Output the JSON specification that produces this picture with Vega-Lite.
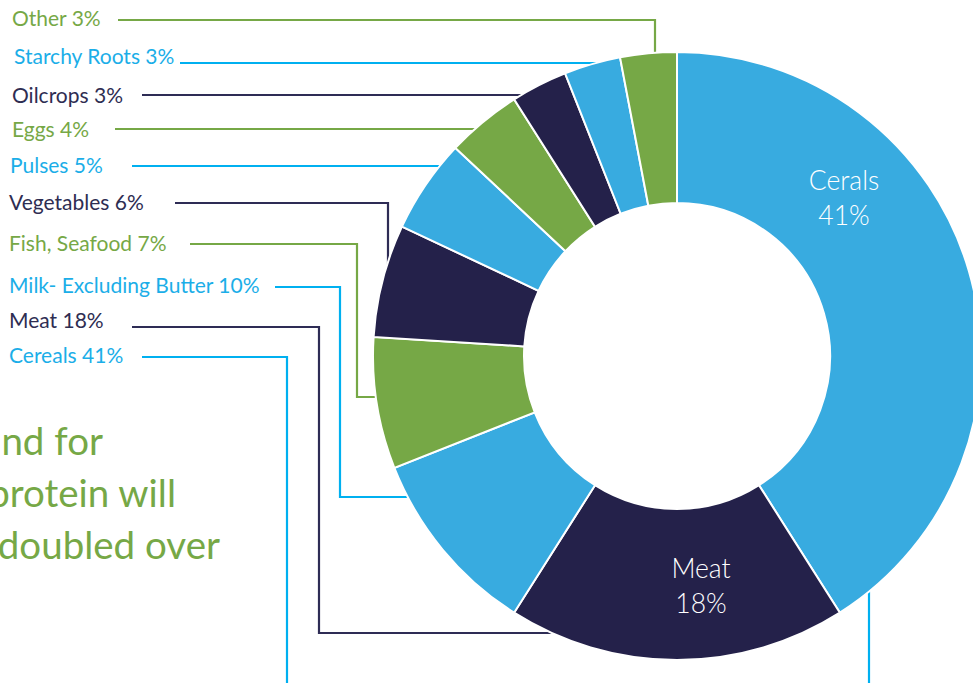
{
  "$schema": "https://vega.github.io/schema/vega-lite/v6.json",
  "width": 973,
  "height": 683,
  "autosize": "none",
  "padding": 0,
  "background": "white",
  "config": {"view": {"stroke": null}},
  "datasets": {
    "slices": [
      {"category": "Cereals", "value": 41, "ord": 1},
      {"category": "Meat", "value": 18, "ord": 2},
      {"category": "Milk- Excluding Butter", "value": 10, "ord": 3},
      {"category": "Fish, Seafood", "value": 7, "ord": 4},
      {"category": "Vegetables", "value": 6, "ord": 5},
      {"category": "Pulses", "value": 5, "ord": 6},
      {"category": "Eggs", "value": 4, "ord": 7},
      {"category": "Oilcrops", "value": 3, "ord": 8},
      {"category": "Starchy Roots", "value": 3, "ord": 9},
      {"category": "Other", "value": 3, "ord": 10}
    ],
    "labels": [
      {"category": "Other", "label": "Other 3%", "x": 12, "y": 20},
      {"category": "Starchy Roots", "label": "Starchy Roots 3%", "x": 14, "y": 58},
      {"category": "Oilcrops", "label": "Oilcrops 3%", "x": 12, "y": 97},
      {"category": "Eggs", "label": "Eggs 4%", "x": 12, "y": 131},
      {"category": "Pulses", "label": "Pulses 5%", "x": 10, "y": 167},
      {"category": "Vegetables", "label": "Vegetables 6%", "x": 9, "y": 204},
      {"category": "Fish, Seafood", "label": "Fish, Seafood 7%", "x": 9, "y": 245},
      {"category": "Milk- Excluding Butter", "label": "Milk- Excluding Butter 10%", "x": 9, "y": 287},
      {"category": "Meat", "label": "Meat 18%", "x": 9, "y": 322},
      {"category": "Cereals", "label": "Cereals 41%", "x": 9, "y": 357}
    ],
    "leaders": [
      {"category": "Other", "id": "a", "seq": 1, "x": 118, "y": 20},
      {"category": "Other", "id": "a", "seq": 2, "x": 655, "y": 20},
      {"category": "Other", "id": "a", "seq": 3, "x": 655, "y": 52},
      {"category": "Starchy Roots", "id": "b", "seq": 1, "x": 180, "y": 63},
      {"category": "Starchy Roots", "id": "b", "seq": 2, "x": 600, "y": 63},
      {"category": "Oilcrops", "id": "c", "seq": 1, "x": 142, "y": 95},
      {"category": "Oilcrops", "id": "c", "seq": 2, "x": 530, "y": 95},
      {"category": "Eggs", "id": "d", "seq": 1, "x": 115, "y": 129},
      {"category": "Eggs", "id": "d", "seq": 2, "x": 480, "y": 129},
      {"category": "Pulses", "id": "e", "seq": 1, "x": 132, "y": 166},
      {"category": "Pulses", "id": "e", "seq": 2, "x": 440, "y": 166},
      {"category": "Vegetables", "id": "f", "seq": 1, "x": 175, "y": 203},
      {"category": "Vegetables", "id": "f", "seq": 2, "x": 388, "y": 203},
      {"category": "Vegetables", "id": "f", "seq": 3, "x": 388, "y": 265},
      {"category": "Fish, Seafood", "id": "g", "seq": 1, "x": 190, "y": 244},
      {"category": "Fish, Seafood", "id": "g", "seq": 2, "x": 357, "y": 244},
      {"category": "Fish, Seafood", "id": "g", "seq": 3, "x": 357, "y": 397},
      {"category": "Fish, Seafood", "id": "g", "seq": 4, "x": 380, "y": 397},
      {"category": "Milk- Excluding Butter", "id": "h", "seq": 1, "x": 275, "y": 287},
      {"category": "Milk- Excluding Butter", "id": "h", "seq": 2, "x": 340, "y": 287},
      {"category": "Milk- Excluding Butter", "id": "h", "seq": 3, "x": 340, "y": 497},
      {"category": "Milk- Excluding Butter", "id": "h", "seq": 4, "x": 415, "y": 497},
      {"category": "Meat", "id": "i", "seq": 1, "x": 132, "y": 327},
      {"category": "Meat", "id": "i", "seq": 2, "x": 319, "y": 327},
      {"category": "Meat", "id": "i", "seq": 3, "x": 319, "y": 633},
      {"category": "Meat", "id": "i", "seq": 4, "x": 560, "y": 633},
      {"category": "Cereals", "id": "j", "seq": 1, "x": 142, "y": 357},
      {"category": "Cereals", "id": "j", "seq": 2, "x": 287, "y": 357},
      {"category": "Cereals", "id": "j", "seq": 3, "x": 287, "y": 700},
      {"category": "Cereals", "id": "k", "seq": 1, "x": 869, "y": 587},
      {"category": "Cereals", "id": "k", "seq": 2, "x": 869, "y": 700}
    ],
    "inner": [
      {"text": "Cerals", "x": 844, "y": 182},
      {"text": "41%", "x": 844, "y": 217},
      {"text": "Meat", "x": 701, "y": 570},
      {"text": "18%", "x": 701, "y": 605}
    ],
    "headline": [
      {"text": "nd for", "x": 103, "y": 443},
      {"text": "protein will", "x": 176, "y": 495},
      {"text": "doubled over", "x": 220, "y": 547}
    ]
  },
  "resolve": {"scale": {"color": "independent"}},
  "layer": [
    {
      "data": {"name": "leaders"},
      "mark": {"type": "line", "strokeWidth": 2.2, "interpolate": "linear"},
      "encoding": {
        "x": {"field": "x", "type": "quantitative", "scale": {"domain": [0, 973], "nice": false, "zero": false}, "axis": null},
        "y": {"field": "y", "type": "quantitative", "scale": {"domain": [0, 683], "nice": false, "zero": false, "reverse": true}, "axis": null},
        "detail": {"field": "id"},
        "order": {"field": "seq"},
        "color": {
          "field": "category", "type": "nominal", "legend": null,
          "scale": {
            "domain": ["Cereals", "Meat", "Milk- Excluding Butter", "Fish, Seafood", "Vegetables", "Pulses", "Eggs", "Oilcrops", "Starchy Roots", "Other"],
            "range": ["#00B0F0", "#2E2C55", "#00B0F0", "#76A846", "#2E2C55", "#00B0F0", "#76A846", "#2E2C55", "#00B0F0", "#76A846"]
          }
        }
      }
    },
    {
      "data": {"name": "slices"},
      "mark": {"type": "arc", "radius": 304, "radius2": 153, "stroke": "white", "strokeWidth": 2},
      "encoding": {
        "x": {"datum": 677, "type": "quantitative"},
        "y": {"datum": 356, "type": "quantitative"},
        "theta": {"field": "value", "type": "quantitative", "stack": true},
        "order": {"field": "ord", "type": "quantitative"},
        "color": {
          "field": "category", "type": "nominal", "legend": null,
          "scale": {
            "domain": ["Cereals", "Meat", "Milk- Excluding Butter", "Fish, Seafood", "Vegetables", "Pulses", "Eggs", "Oilcrops", "Starchy Roots", "Other"],
            "range": ["#38ABE0", "#24214A", "#38ABE0", "#76A846", "#24214A", "#38ABE0", "#76A846", "#24214A", "#38ABE0", "#76A846"]
          }
        }
      }
    },
    {
      "data": {"name": "labels"},
      "mark": {"type": "text", "align": "left", "baseline": "middle", "font": "Lato", "fontSize": 21},
      "encoding": {
        "x": {"field": "x", "type": "quantitative"},
        "y": {"field": "y", "type": "quantitative"},
        "text": {"field": "label"},
        "color": {
          "field": "category", "type": "nominal", "legend": null,
          "scale": {
            "domain": ["Cereals", "Meat", "Milk- Excluding Butter", "Fish, Seafood", "Vegetables", "Pulses", "Eggs", "Oilcrops", "Starchy Roots", "Other"],
            "range": ["#1BAEE8", "#2E2D52", "#1BAEE8", "#76A846", "#2E2D52", "#1BAEE8", "#76A846", "#2E2D52", "#1BAEE8", "#76A846"]
          }
        }
      }
    },
    {
      "data": {"name": "inner"},
      "mark": {"type": "text", "align": "center", "baseline": "middle", "font": "Lato", "fontWeight": 300, "fontSize": 26.5, "color": "white"},
      "encoding": {
        "x": {"field": "x", "type": "quantitative"},
        "y": {"field": "y", "type": "quantitative"},
        "text": {"field": "text"}
      }
    },
    {
      "data": {"name": "headline"},
      "mark": {"type": "text", "align": "right", "baseline": "middle", "font": "Lato", "fontSize": 38.5, "color": "#76A846"},
      "encoding": {
        "x": {"field": "x", "type": "quantitative"},
        "y": {"field": "y", "type": "quantitative"},
        "text": {"field": "text"}
      }
    }
  ]
}
